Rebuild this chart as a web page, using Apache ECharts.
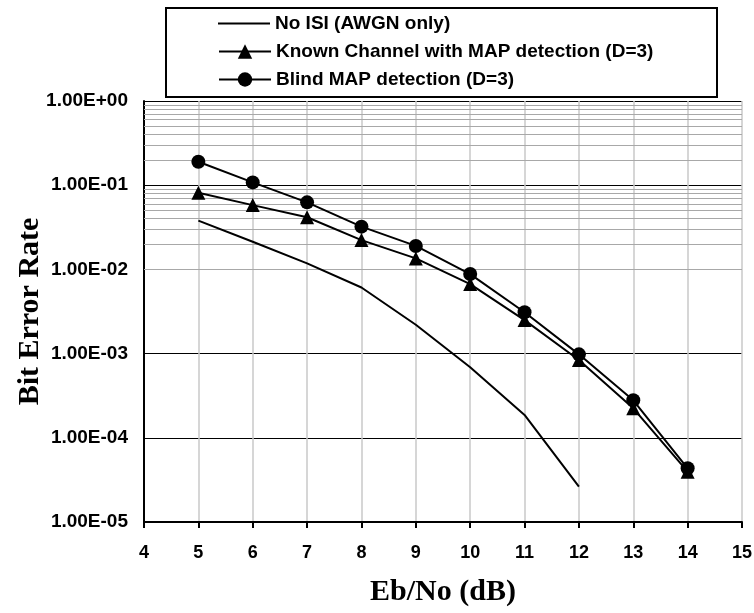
<!DOCTYPE html>
<html>
<head>
<meta charset="utf-8">
<title>BER</title>
<style>
  html, body { margin: 0; padding: 0; background: #fff; }
  #chart { width: 754px; height: 613px; }
</style>
</head>
<body>
<div id="chart"></div>
<script src="https://cdn.jsdelivr.net/npm/echarts@6/dist/echarts.min.js"></script>
<script>
// data
var ebno = [5, 6, 7, 8, 9, 10, 11, 12, 13, 14];
var noIsi = [0.038, 0.0213, 0.0118, 0.0061, 0.0022, 0.00069, 0.000187, 0.0000263];
var known = [0.0815, 0.058, 0.0416, 0.0223, 0.0135, 0.0067, 0.0025, 0.00084, 0.000224, 0.0000396];
var blind = [0.19, 0.108, 0.0626, 0.0322, 0.019, 0.0088, 0.0031, 0.00098, 0.000279, 0.0000434];
var names = ['No ISI (AWGN only)', 'Known Channel with MAP detection (D=3)', 'Blind MAP detection (D=3)'];

function pairs(vals) {
    return vals.map(function (v, i) { return [ebno[i], v]; });
}

// minor grid lines at 2..9 x 10^k
var minorLines = [];
for (var k = -5; k < 0; k++) {
    for (var m = 2; m <= 9; m++) {
        minorLines.push({ yAxis: m * Math.pow(10, k) });
    }
}

function sci(v) {
    var e = Math.round(Math.log10(v));
    var mant = v / Math.pow(10, e);
    var s = e < 0 ? '-' : '+';
    var a = Math.abs(e);
    return mant.toFixed(2) + 'E' + s + (a < 10 ? '0' + a : a);
}

var sans = "'Liberation Sans', Arial, sans-serif";
var serif = "'Liberation Serif', 'Times New Roman', serif";

var chart = echarts.init(document.getElementById('chart'));

function legendRow(item, top, h) {
    return {
        data: [item],
        orient: 'vertical',
        left: 218,
        top: top,
        padding: 0,
        itemWidth: 52,
        itemHeight: h,
        selectedMode: false,
        textStyle: { fontFamily: sans, fontWeight: 'bold', fontSize: 19, color: '#000' }
    };
}

var option = {
    animation: false,
    backgroundColor: '#fff',
    graphic: [{
        type: 'rect',
        shape: { x: 166, y: 8, width: 551, height: 89 },
        style: { fill: '#fff', stroke: '#000', lineWidth: 2 },
        z: 0
    }],
    legend: [
        legendRow({ name: names[0], icon: 'rect', itemStyle: { color: '#000' } }, 14, 2),
        legendRow(names[1], 42, 18),
        legendRow(names[2], 70, 18)
    ],
    grid: { left: 144, right: 12, top: 101, bottom: 91, outerBoundsMode: 'none', containLabel: false },
    xAxis: {
        type: 'value',
        min: 4,
        max: 15,
        interval: 1,
        name: 'Eb/No (dB)',
        nameLocation: 'middle',
        nameGap: 55,
        nameMoveOverlap: false,
        nameTextStyle: { fontFamily: serif, fontWeight: 'bold', fontSize: 30, color: '#000' },
        axisLine: { lineStyle: { color: '#000', width: 2 } },
        axisTick: { show: true, length: 6, lineStyle: { color: '#000', width: 2 } },
        axisLabel: { margin: 22, fontFamily: sans, fontWeight: 'bold', fontSize: 18, color: '#000' },
        splitLine: { show: true, lineStyle: { color: '#c8c8c8', width: 1.5 } }
    },
    yAxis: {
        type: 'log',
        logBase: 10,
        min: 0.00001,
        max: 1,
        name: 'Bit Error Rate',
        nameLocation: 'middle',
        nameGap: 99,
        nameMoveOverlap: false,
        nameTextStyle: { fontFamily: serif, fontWeight: 'bold', fontSize: 30, color: '#000' },
        axisLine: { show: true, lineStyle: { color: '#000', width: 2 } },
        axisTick: { show: false },
        axisLabel: {
            margin: 16,
            fontFamily: sans, fontWeight: 'bold', fontSize: 19, color: '#000',
            formatter: sci
        },
        splitLine: { show: true, lineStyle: { color: '#000', width: 1 } }
    },
    series: [
        {
            name: names[0],
            type: 'line',
            data: pairs(noIsi),
            symbol: 'none',
            z: 3,
            lineStyle: { color: '#000', width: 2 },
            itemStyle: { color: '#000' },
            markLine: {
                silent: true,
                symbol: 'none',
                z: 1,
                label: { show: false },
                lineStyle: { color: '#a8a8a8', type: 'solid', width: 1 },
                data: minorLines
            }
        },
        {
            name: names[1],
            type: 'line',
            data: pairs(known),
            symbol: 'triangle',
            symbolSize: 14,
            z: 3,
            lineStyle: { color: '#000', width: 2 },
            itemStyle: { color: '#000' }
        },
        {
            name: names[2],
            type: 'line',
            data: pairs(blind),
            symbol: 'circle',
            symbolSize: 14,
            z: 4,
            lineStyle: { color: '#000', width: 2 },
            itemStyle: { color: '#000' }
        }
    ]
};

chart.setOption(option);
</script>
</body>
</html>
